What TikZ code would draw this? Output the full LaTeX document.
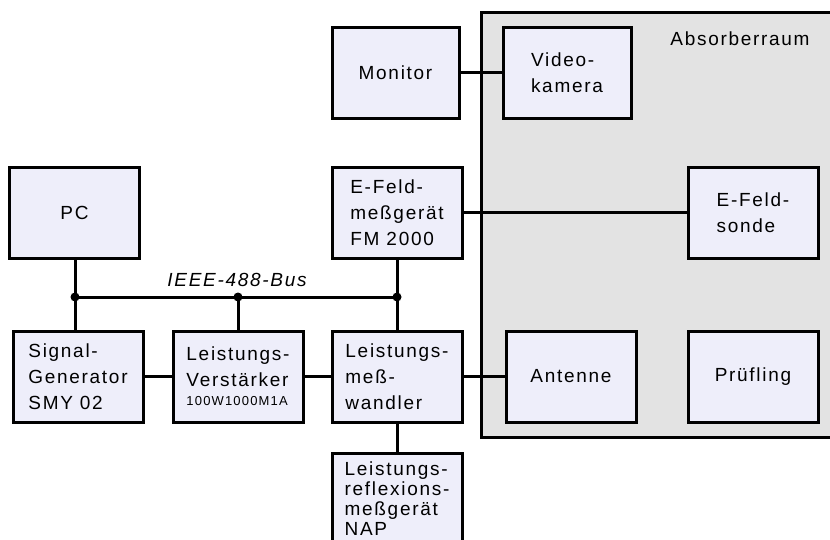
\documentclass[tikz,border=0pt]{standalone}
\usepackage{fontspec}
\setmainfont[LetterSpace=9]{Liberation Sans}
\definecolor{devFill}{HTML}{EEEEFA}
\definecolor{roomFill}{HTML}{E3E3E3}

\begin{document}
\begin{tikzpicture}[x=1pt, y=-1pt, line width=3pt]
  \tikzstyle{D}=[draw, fill=devFill, minimum width=130pt, minimum height=91pt, inner sep=0pt, align=left, font=\fontsize{19}{26}\selectfont]
  \tikzstyle{J}=[circle, fill=black, inner sep=0pt, minimum size=9pt]
  \tikzstyle{L}=[font=\fontsize{19}{26}\selectfont]

  \clip (0,0) rectangle (830,540);
  \draw[fill=roomFill] (481,13) rectangle (850,437);
  \node[L, anchor=base] at (740,46) (room) {Absorberraum};

  \node[D] at (74.5,213) (pc) {PC};
  \node[D] at (397,213) (efm) {E-Feld-\\meßgerät\\FM 2000};
  \node[D, minimum width=127pt] at (395.5,73) (mon) {Monitor};
  \node[D, minimum width=128pt] at (567,73) (cam) {Video-\\kamera};
  \node[D] at (753,213) (probe) {E-Feld-\\sonde};

  \node[D] at (78,376.5) (gen) {Signal-\\Generator\\SMY 02};
  \node[D] at (238,376.5) (amp) {Leistungs-\\Verstärker\\[-7pt]{\fontsize{13}{15}\selectfont 100W1000M1A}};
  \node[D] at (397,376.5) (pmw) {Leistungs-\\meß-\\wandler};
  \node[D] at (571,376.5) (ant) {Antenne};
  \node[D] at (753,376.5) (dut) {Prüfling};
  \node[D, font=\fontsize{19}{20}\selectfont] at (397,499) (nap) {Leistungs-\\reflexions-\\meßgerät\\NAP};

  \coordinate (b1) at (75,297);
  \coordinate (b2) at (238,297);
  \coordinate (b3) at (397,297);

  \draw (b1) -- (b3);
  \draw (pc.south -| b1) -- (gen.north -| b1);
  \draw (b2) -- (amp);
  \draw (efm) -- (pmw);
  \node[L, font=\fontsize{19}{26}\selectfont\itshape, anchor=base] at (237,287) (bus) {IEEE-488-Bus};

  \draw (mon) -- (cam);
  \draw (efm) -- (probe);
  \draw (gen) -- (amp);
  \draw (amp) -- (pmw);
  \draw (pmw) -- (ant);
  \draw (pmw) -- (nap);

  \node[J] at (b1) {};
  \node[J] at (b2) {};
  \node[J] at (b3) {};
\end{tikzpicture}
\end{document}
